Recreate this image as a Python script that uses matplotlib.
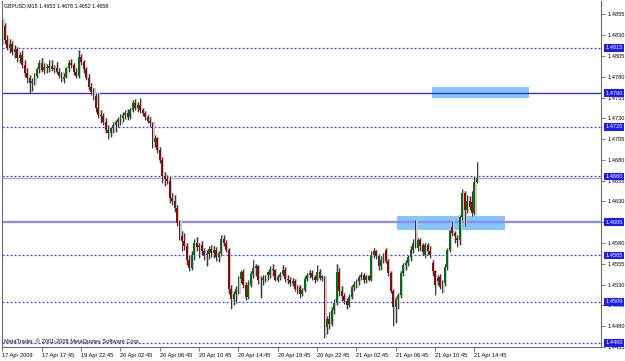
import matplotlib

matplotlib.use("Agg")
import matplotlib.pyplot as plt
from matplotlib.patches import Rectangle
from matplotlib.transforms import blended_transform_factory

plt.rcParams["font.family"] = ["Liberation Sans", "DejaVu Sans"]

# GBPUSD M15 bars, 17 Apr 2009 13:45 .. 21 Apr 2009 15:00
opens = [
    1.4823, 1.4841, 1.4824, 1.4815, 1.4820, 1.4810, 1.4814, 1.4803, 1.4806, 1.4794,
    1.4784, 1.4778, 1.4772, 1.4775, 1.4781, 1.4789, 1.4797, 1.4788, 1.4792, 1.4790,
    1.4793, 1.4789, 1.4791, 1.4786, 1.4781, 1.4777, 1.4780, 1.4790, 1.4796, 1.4794,
    1.4786, 1.4781, 1.4804, 1.4798, 1.4789, 1.4779, 1.4768, 1.4762, 1.4757, 1.4742,
    1.4734, 1.4733, 1.4726, 1.4716, 1.4712, 1.4718, 1.4722, 1.4725, 1.4729, 1.4730,
    1.4734, 1.4737, 1.4731, 1.4740, 1.4749, 1.4743, 1.4746, 1.4740, 1.4736, 1.4731,
    1.4727, 1.4724, 1.4702, 1.4706, 1.4692, 1.4680, 1.4660, 1.4657, 1.4655, 1.4634,
    1.4630, 1.4622, 1.4604, 1.4588, 1.4582, 1.4576, 1.4560, 1.4550, 1.4566, 1.4580,
    1.4575, 1.4577, 1.4570, 1.4565, 1.4567, 1.4573, 1.4568, 1.4572, 1.4563, 1.4568,
    1.4585, 1.4580, 1.4572, 1.4524, 1.4512, 1.4518, 1.4524, 1.4537, 1.4545, 1.4530,
    1.4515, 1.4530, 1.4543, 1.4550, 1.4552, 1.4535, 1.4536, 1.4538, 1.4545, 1.4541,
    1.4549, 1.4547, 1.4536, 1.4539, 1.4543, 1.4548, 1.4537, 1.4535, 1.4532, 1.4534,
    1.4525, 1.4527, 1.4518, 1.4523, 1.4537, 1.4541, 1.4544, 1.4539, 1.4536, 1.4545,
    1.4538, 1.4536, 1.4479, 1.4488, 1.4483, 1.4499, 1.4508, 1.4545, 1.4522, 1.4516,
    1.4510, 1.4505, 1.4515, 1.4527, 1.4531, 1.4534, 1.4539, 1.4541, 1.4536, 1.4540,
    1.4536, 1.4566, 1.4570, 1.4564, 1.4552, 1.4560, 1.4572, 1.4558, 1.4544, 1.4522,
    1.4503, 1.4512, 1.4517, 1.4544, 1.4553, 1.4556, 1.4563, 1.4572, 1.4580, 1.4574,
    1.4584, 1.4578, 1.4566, 1.4578, 1.4570, 1.4556, 1.4546, 1.4538, 1.4539, 1.4527,
    1.4532, 1.4551, 1.4572, 1.4599, 1.4592, 1.4586, 1.4584, 1.4611, 1.4640, 1.4620,
    1.4630, 1.4629, 1.4616, 1.4653,
]
highs = [
    1.4850, 1.4845, 1.4830, 1.4826, 1.4823, 1.4818, 1.4816, 1.4810, 1.4812, 1.4800,
    1.4790, 1.4782, 1.4778, 1.4784, 1.4792, 1.4800, 1.4803, 1.4796, 1.4795, 1.4800,
    1.4800, 1.4794, 1.4798, 1.4790, 1.4786, 1.4784, 1.4792, 1.4800, 1.4801, 1.4797,
    1.4790, 1.4812, 1.4808, 1.4800, 1.4792, 1.4783, 1.4772, 1.4767, 1.4760, 1.4760,
    1.4740, 1.4737, 1.4730, 1.4722, 1.4720, 1.4726, 1.4728, 1.4732, 1.4735, 1.4738,
    1.4740, 1.4741, 1.4742, 1.4752, 1.4753, 1.4750, 1.4754, 1.4743, 1.4739, 1.4734,
    1.4731, 1.4726, 1.4710, 1.4708, 1.4696, 1.4684, 1.4666, 1.4662, 1.4660, 1.4640,
    1.4638, 1.4626, 1.4608, 1.4594, 1.4592, 1.4580, 1.4566, 1.4570, 1.4585, 1.4587,
    1.4580, 1.4582, 1.4574, 1.4572, 1.4576, 1.4578, 1.4576, 1.4575, 1.4570, 1.4590,
    1.4589, 1.4583, 1.4574, 1.4530, 1.4522, 1.4528, 1.4540, 1.4548, 1.4549, 1.4533,
    1.4535, 1.4546, 1.4560, 1.4555, 1.4554, 1.4540, 1.4541, 1.4542, 1.4546, 1.4552,
    1.4555, 1.4549, 1.4542, 1.4545, 1.4553, 1.4551, 1.4541, 1.4539, 1.4538, 1.4537,
    1.4530, 1.4529, 1.4526, 1.4540, 1.4544, 1.4547, 1.4548, 1.4542, 1.4553, 1.4549,
    1.4542, 1.4540, 1.4492, 1.4497, 1.4503, 1.4512, 1.4555, 1.4550, 1.4528, 1.4520,
    1.4514, 1.4518, 1.4530, 1.4534, 1.4537, 1.4542, 1.4545, 1.4544, 1.4542, 1.4542,
    1.4570, 1.4574, 1.4572, 1.4567, 1.4564, 1.4568, 1.4574, 1.4561, 1.4546, 1.4525,
    1.4515, 1.4520, 1.4546, 1.4556, 1.4559, 1.4566, 1.4576, 1.4585, 1.4608, 1.4586,
    1.4586, 1.4580, 1.4580, 1.4580, 1.4576, 1.4560, 1.4548, 1.4542, 1.4543, 1.4536,
    1.4555, 1.4574, 1.4596, 1.4606, 1.4594, 1.4590, 1.4614, 1.4645, 1.4642, 1.4638,
    1.4636, 1.4642, 1.4660, 1.4678,
]
lows = [
    1.4818, 1.4820, 1.4812, 1.4809, 1.4806, 1.4803, 1.4798, 1.4796, 1.4790, 1.4780,
    1.4772, 1.4760, 1.4763, 1.4770, 1.4778, 1.4785, 1.4786, 1.4783, 1.4785, 1.4786,
    1.4787, 1.4784, 1.4783, 1.4778, 1.4774, 1.4773, 1.4778, 1.4786, 1.4790, 1.4782,
    1.4778, 1.4779, 1.4794, 1.4785, 1.4776, 1.4764, 1.4758, 1.4752, 1.4738, 1.4730,
    1.4724, 1.4722, 1.4712, 1.4705, 1.4708, 1.4712, 1.4714, 1.4720, 1.4722, 1.4726,
    1.4729, 1.4728, 1.4729, 1.4738, 1.4740, 1.4738, 1.4736, 1.4733, 1.4728, 1.4724,
    1.4720, 1.4694, 1.4696, 1.4688, 1.4676, 1.4652, 1.4648, 1.4651, 1.4628, 1.4626,
    1.4617, 1.4600, 1.4584, 1.4570, 1.4572, 1.4553, 1.4546, 1.4548, 1.4560, 1.4570,
    1.4562, 1.4566, 1.4560, 1.4552, 1.4561, 1.4563, 1.4562, 1.4558, 1.4557, 1.4564,
    1.4576, 1.4569, 1.4518, 1.4500, 1.4505, 1.4508, 1.4518, 1.4532, 1.4526, 1.4511,
    1.4512, 1.4527, 1.4538, 1.4540, 1.4531, 1.4514, 1.4530, 1.4533, 1.4535, 1.4538,
    1.4540, 1.4534, 1.4533, 1.4535, 1.4540, 1.4533, 1.4531, 1.4528, 1.4528, 1.4522,
    1.4519, 1.4514, 1.4516, 1.4521, 1.4534, 1.4538, 1.4536, 1.4532, 1.4534, 1.4535,
    1.4534, 1.4466, 1.4470, 1.4477, 1.4480, 1.4494, 1.4505, 1.4516, 1.4510, 1.4506,
    1.4500, 1.4503, 1.4512, 1.4522, 1.4526, 1.4530, 1.4535, 1.4532, 1.4532, 1.4534,
    1.4534, 1.4562, 1.4561, 1.4548, 1.4548, 1.4556, 1.4556, 1.4540, 1.4520, 1.4480,
    1.4484, 1.4500, 1.4514, 1.4540, 1.4548, 1.4552, 1.4558, 1.4568, 1.4574, 1.4570,
    1.4570, 1.4566, 1.4562, 1.4566, 1.4562, 1.4540, 1.4517, 1.4530, 1.4524, 1.4520,
    1.4528, 1.4548, 1.4569, 1.4588, 1.4580, 1.4575, 1.4578, 1.4608, 1.4600, 1.4616,
    1.4620, 1.4612, 1.4614, 1.4652,
]
closes = [
    1.4841, 1.4824, 1.4815, 1.4820, 1.4810, 1.4814, 1.4803, 1.4806, 1.4794, 1.4784,
    1.4778, 1.4772, 1.4775, 1.4781, 1.4789, 1.4797, 1.4788, 1.4792, 1.4790, 1.4793,
    1.4789, 1.4791, 1.4786, 1.4781, 1.4777, 1.4780, 1.4790, 1.4796, 1.4794, 1.4786,
    1.4781, 1.4804, 1.4798, 1.4789, 1.4779, 1.4768, 1.4762, 1.4757, 1.4742, 1.4734,
    1.4733, 1.4726, 1.4716, 1.4712, 1.4718, 1.4722, 1.4725, 1.4729, 1.4730, 1.4734,
    1.4737, 1.4731, 1.4740, 1.4749, 1.4743, 1.4746, 1.4740, 1.4736, 1.4731, 1.4727,
    1.4724, 1.4702, 1.4706, 1.4692, 1.4680, 1.4660, 1.4657, 1.4655, 1.4634, 1.4630,
    1.4622, 1.4604, 1.4588, 1.4582, 1.4576, 1.4560, 1.4550, 1.4566, 1.4580, 1.4575,
    1.4577, 1.4570, 1.4565, 1.4567, 1.4573, 1.4568, 1.4572, 1.4563, 1.4568, 1.4585,
    1.4580, 1.4572, 1.4524, 1.4512, 1.4518, 1.4524, 1.4537, 1.4545, 1.4530, 1.4515,
    1.4530, 1.4543, 1.4550, 1.4552, 1.4535, 1.4536, 1.4538, 1.4540, 1.4541, 1.4549,
    1.4547, 1.4536, 1.4539, 1.4543, 1.4548, 1.4537, 1.4535, 1.4532, 1.4534, 1.4525,
    1.4527, 1.4518, 1.4523, 1.4537, 1.4541, 1.4544, 1.4539, 1.4536, 1.4545, 1.4538,
    1.4540, 1.4479, 1.4488, 1.4483, 1.4499, 1.4508, 1.4545, 1.4522, 1.4516, 1.4510,
    1.4505, 1.4515, 1.4527, 1.4531, 1.4534, 1.4539, 1.4541, 1.4536, 1.4540, 1.4536,
    1.4566, 1.4570, 1.4564, 1.4552, 1.4560, 1.4563, 1.4558, 1.4544, 1.4522, 1.4503,
    1.4512, 1.4517, 1.4544, 1.4553, 1.4556, 1.4563, 1.4572, 1.4580, 1.4578, 1.4584,
    1.4576, 1.4569, 1.4578, 1.4570, 1.4566, 1.4546, 1.4530, 1.4534, 1.4527, 1.4532,
    1.4551, 1.4572, 1.4594, 1.4592, 1.4588, 1.4584, 1.4611, 1.4640, 1.4620, 1.4630,
    1.4623, 1.4616, 1.4653, 1.4658,
]

time_ticks = [0, 16, 32, 48, 64, 80, 96, 112, 128, 144, 160, 176, 192]
time_labels = [
    "17 Apr 2009", "17 Apr 17:45", "19 Apr 22:45", "20 Apr 02:45", "20 Apr 06:45",
    "20 Apr 10:45", "20 Apr 14:45", "20 Apr 18:45", "20 Apr 22:45", "21 Apr 02:45",
    "21 Apr 06:45", "21 Apr 10:45", "21 Apr 14:45",
]
price_ticks = [
    1.4855, 1.4830, 1.4805, 1.4780, 1.4755, 1.4730, 1.4705, 1.4680, 1.4655,
    1.4630, 1.4605, 1.4580, 1.4555, 1.4530, 1.4505, 1.4480, 1.4455,
]
dotted_levels = [1.4815, 1.4720, 1.4660, 1.4565, 1.4509, 1.4460]
solid_levels = [1.4760, 1.4605]
bid_price = 1.4658
# (first bar, last bar, low, high)
zones = [(174.7, 214.2, 1.47545, 1.47677), (160.5, 204.4, 1.45956, 1.46124)]

fig = plt.figure(figsize=(6.25, 3.61), dpi=100)
ax = fig.add_axes([2 / 625, 14 / 361, 599 / 625, 346 / 361])
ax.set_xlim(-0.2, 243.5)
ax.set_ylim(1.44548, 1.48712)

for x0, x1, lo, hi in zones:
    ax.add_patch(Rectangle((x0, lo), x1 - x0, hi - lo, facecolor="#84c6fa",
                           edgecolor="none", zorder=1))

for level in dotted_levels:
    ax.axhline(level, color="#3a3aff", lw=0.9, ls=(0, (1.6, 1.6)), zorder=2)
ax.axhline(solid_levels[0], color="#3434c4", lw=1.0, zorder=2)
ax.axhline(solid_levels[1], color="#8a8aff", lw=1.6, zorder=2)
ax.axhline(bid_price, color="#a8a8a8", lw=0.9, zorder=2)

xs = list(range(len(closes)))
body_low = [min(o, c) for o, c in zip(opens, closes)]
body_h = [max(abs(c - o), 0.00008) for o, c in zip(opens, closes)]
colors = ["#0b6a12" if c >= o else "#8e0a0a" for o, c in zip(opens, closes)]

# soft grey halo around every bar, as in the resized screenshot
ax.bar([x + 0.35 for x in xs], [h - l for h, l in zip(highs, lows)], bottom=lows,
       width=1.0, color="#c8c8c8", zorder=3)
ax.vlines(xs, lows, highs, color="#202020", lw=0.6, zorder=4)
ax.bar(xs, body_h, bottom=body_low, width=0.75, color=colors, zorder=5)

# the highlighted level labels sit on top of the plain scale labels
covered = {round(lv, 4) for lv in solid_levels + dotted_levels}
ax.yaxis.tick_right()
ax.set_yticks(price_ticks)
ax.set_yticklabels(["" if round(p, 4) in covered else f"{p:.4f}" for p in price_ticks])
ax.set_xticks(time_ticks)
ax.set_xticklabels(time_labels, ha="left")
ax.tick_params(axis="both", labelsize=4.1, length=3, width=0.6, color="#606060", pad=1.5)
ax.tick_params(axis="x", pad=1)
for side in ("left", "right", "bottom"):
    ax.spines[side].set_color("#6c6c6c")
    ax.spines[side].set_linewidth(0.8)
ax.spines["top"].set_visible(False)

trans = blended_transform_factory(ax.transAxes, ax.transData)
for level in dotted_levels + solid_levels:
    ax.text(1.0 + 4.5 / 599, level, f"{level:.4f}", transform=trans, fontsize=4.1,
            color="white", va="center", ha="left", zorder=10, clip_on=False,
            bbox=dict(boxstyle="square,pad=0.25", facecolor="#1c1cf0", edgecolor="none"))

fig.text(4 / 625, 1 - 6 / 361, "GBPUSD,M15 1.4653 1.4678 1.4652 1.4658",
         fontsize=3.8, va="center", ha="left")
fig.text(4 / 625, 1 - 341 / 361, "MetaTrader, \u00a9 2001-2008 MetaQuotes Software Corp.",
         fontsize=4.1, va="center", ha="left")

fig.savefig("out.png", dpi=100)
